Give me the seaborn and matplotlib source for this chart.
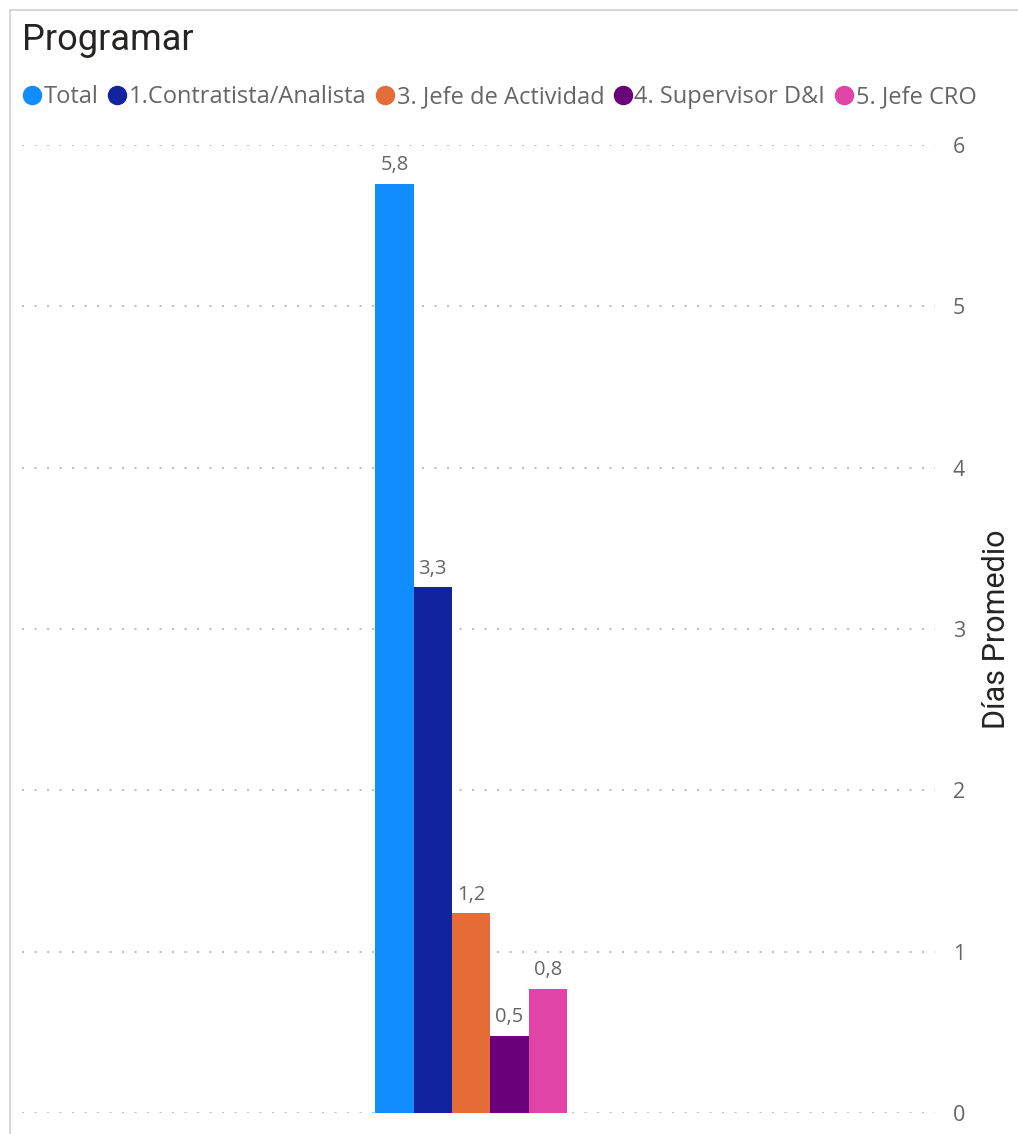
import matplotlib
matplotlib.use("Agg")
import matplotlib.pyplot as plt
from matplotlib.lines import Line2D
import seaborn as sns
import pandas as pd

# Average days per role for the "Programar" stage
categories = ["Programar"]
series = ["Total", "1.Contratista/Analista", "3. Jefe de Actividad",
          "4. Supervisor D&I", "5. Jefe CRO"]
values = [5.76, 3.26, 1.24, 0.48, 0.77]
colors = ["#118DFF", "#12239E", "#E66C37", "#6B007B", "#E044A7"]
y_ticks = [0, 1, 2, 3, 4, 5, 6]

df = pd.DataFrame({"cat": categories * len(series), "serie": series, "dias": values})

sns.set_theme(style="white")
plt.rcParams["font.family"] = ["Open Sans", "DejaVu Sans"]

fig = plt.figure(figsize=(10.18, 11.34), dpi=100)
ax = fig.add_axes([0.0216, 0.0185, 0.8966, 0.8536])

sns.barplot(data=df, x="cat", y="dias", hue="serie", hue_order=series,
            palette=colors, width=0.21, dodge=True, saturation=1,
            linewidth=0, legend=False, ax=ax, zorder=3)

ax.set_ylim(0, 6)
ax.set_xlim(-0.492, 0.508)
ax.set_yticks(y_ticks)
ax.yaxis.tick_right()
ax.yaxis.set_label_position("right")
ax.tick_params(axis="y", length=0, pad=13, labelsize=15.5, labelcolor="#666666")
ax.set_xticks([])
ax.set_xlabel("")
ax.set_ylabel("Días Promedio", fontsize=22, color="#252423",
              family=["Roboto", "DejaVu Sans"], labelpad=12)
for s in ax.spines.values():
    s.set_visible(False)
ax.grid(axis="y", linestyle=(0, (1, 5)), color="#c0c0c0", linewidth=1.5, zorder=0)
ax.set_axisbelow(True)

for cont in ax.containers:
    for bar in cont:
        h = bar.get_height()
        ax.annotate(f"{h:.1f}".replace(".", ","),
                    (bar.get_x() + bar.get_width() / 2, h),
                    xytext=(0, 6), textcoords="offset points",
                    ha="center", va="bottom", fontsize=14.5, color="#666666")

fig.text(0.0216, 1 - 40 / 1134, "Programar", fontsize=26, color="#252423",
         family=["Roboto", "DejaVu Sans"], va="center", ha="left")

handles = [Line2D([0], [0], marker="o", linestyle="", markersize=13,
                  markerfacecolor=c, markeredgecolor=c) for c in colors]
fig.legend(handles, series, loc="center left",
           bbox_to_anchor=(0.022, 1 - 97 / 1134), ncol=5, frameon=False,
           fontsize=17, labelcolor="#666666", handletextpad=0.1,
           columnspacing=0.38, handlelength=0.8, borderaxespad=0, borderpad=0)

# thin frame along the top and left edges
fig.add_artist(Line2D([10 / 1018, 1.0], [1 - 10 / 1134] * 2, color="#d0d0d0", lw=1.2,
                      transform=fig.transFigure))
fig.add_artist(Line2D([10 / 1018] * 2, [0, 1 - 10 / 1134], color="#d0d0d0", lw=1.2,
                      transform=fig.transFigure))

fig.savefig("out.png", dpi=100)
